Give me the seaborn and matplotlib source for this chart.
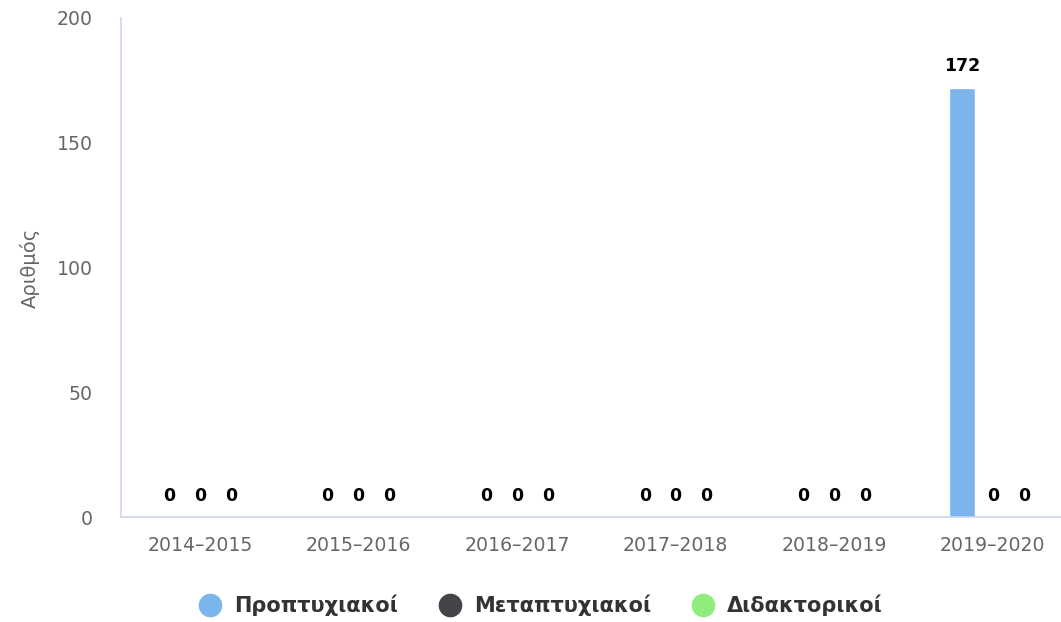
import matplotlib
matplotlib.use("Agg")
import matplotlib.pyplot as plt
from matplotlib.lines import Line2D
import seaborn as sns
import pandas as pd

years = ["2014–2015", "2015–2016", "2016–2017", "2017–2018", "2018–2019", "2019–2020"]
series = ["Προπτυχιακοί", "Μεταπτυχιακοί", "Διδακτορικοί"]
undergrad = [0, 0, 0, 0, 0, 172]
postgrad = [0, 0, 0, 0, 0, 0]
doctoral = [0, 0, 0, 0, 0, 0]
colors = ["#7cb5ec", "#434348", "#90ed7d"]

rows = []
for name, vals in zip(series, [undergrad, postgrad, doctoral]):
    for y, v in zip(years, vals):
        rows.append({"year": y, "series": name, "value": v})
df = pd.DataFrame(rows)

sns.set_theme(style="white")
plt.rcParams["font.family"] = ["DejaVu Sans"]

fig = plt.figure(figsize=(10.61, 6.22), dpi=100)
ax = fig.add_axes([0.1138, 0.1688, 0.8966, 0.8023])

sns.barplot(data=df, x="year", y="value", hue="series", order=years,
            hue_order=series, palette=colors, width=0.586, gap=0.17,
            legend=False, ax=ax, saturation=1)

for c in ax.containers:
    ax.bar_label(c, fmt="%d", padding=9, fontsize=12.5, fontweight="bold",
                 color="#000000")

ax.set_xlim(-0.5, 5.5)
ax.set_ylim(0, 200)
ax.set_yticks([0, 50, 100, 150, 200])
ax.set_xlabel("")
ax.set_ylabel("Αριθμός", fontsize=14, color="#666666")
ax.yaxis.set_label_coords(-0.085, 0.5)
ax.tick_params(axis="y", length=0, pad=20, labelsize=13.6, labelcolor="#666666")
ax.tick_params(axis="x", length=0, pad=14, labelsize=13.6, labelcolor="#666666")

for s in ["top", "right"]:
    ax.spines[s].set_visible(False)
for s in ["left", "bottom"]:
    ax.spines[s].set_color("#ccd6eb")
    ax.spines[s].set_linewidth(1.2)

handles = [Line2D([0], [0], marker="o", linestyle="", markersize=16,
                  markerfacecolor=c, markeredgecolor=c) for c in colors]
leg = fig.legend(handles, series, loc="center", bbox_to_anchor=(0.505, 0.027),
                 ncol=3, frameon=False, handletextpad=0.15, columnspacing=1.5,
                 prop={"size": 15, "weight": "bold"})
for t in leg.get_texts():
    t.set_color("#333333")

fig.savefig("out.png", dpi=100)
